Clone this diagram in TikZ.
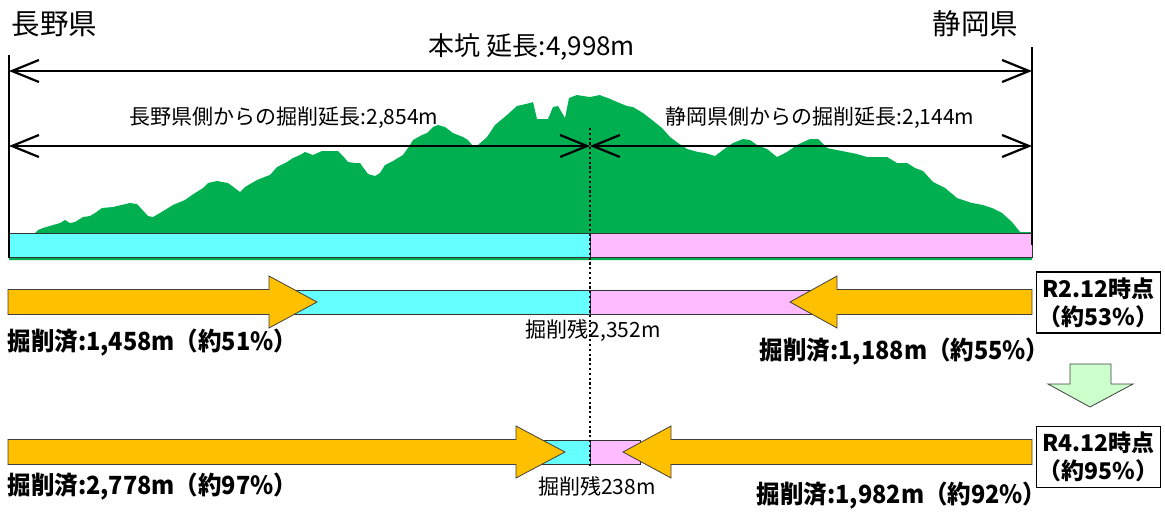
\documentclass[tikz,border=0pt]{standalone}
\usepackage{fontspec}
\usepackage{graphicx}
\setmainfont{Noto Sans CJK JP}
\usetikzlibrary{arrows.meta}

\definecolor{mtgreen}{HTML}{00B050}
\definecolor{tcyan}{HTML}{66FFFF}
\definecolor{tpink}{HTML}{FFBBFF}
\definecolor{dugorange}{HTML}{FFC000}
\definecolor{nextgreen}{HTML}{CCFFCC}

% bold labels are set a little narrow
\newcommand{\condense}[1]{\scalebox{0.94}[1]{#1}}

\begin{document}
\begin{tikzpicture}[x=1pt,y=-1pt,
	>={Straight Barb[length=27pt,width=22pt]},
	dim/.style={line width=2.2pt},
	edge/.style={line width=2.4pt},
	bar/.style={draw=black!80,line width=0.8pt},
	dug/.style={fill=dugorange,draw=black!75,line width=0.8pt},
	cut/.style={line width=2.4pt,dash pattern=on 2.2pt off 2.6pt},
	pref/.style={font=\fontsize{28.5}{30}\selectfont},
	len/.style={font=\fontsize{21}{23}\selectfont},
	done/.style={font=\fontsize{25}{27}\selectfont\bfseries},
	rest/.style={font=\fontsize{21}{23}\selectfont},
	stamp/.style={draw,line width=1.6pt,minimum width=117pt,minimum height=61pt,
		align=center,inner sep=2pt,font=\fontsize{23}{28}\selectfont\bfseries}
]
\useasboundingbox (0,0) rectangle (1165,520);

% mountain section over the tunnel
\fill[mtgreen] (9,260) -- (9,233) -- plot coordinates {
	(35,233) (38,230) (43,228) (53,225) (60,223) (65,220) (70,223) (75,222)
	(83,217) (90,216) (95,213) (102,208) (113,207) (130,203) (137,204) (148,216)
	(153,217) (160,213) (173,205) (185,200) (192,195) (203,188) (208,183) (217,181)
	(228,183) (240,192) (245,187) (257,180) (267,176) (270,175) (277,167) (287,162)
	(293,158) (300,155) (305,152) (313,155) (322,151) (338,151) (343,156) (348,162)
	(355,163) (360,163) (362,166) (368,174) (375,176) (380,173) (385,165) (393,161)
	(403,155) (410,145) (413,140) (422,135) (427,133) (433,127) (438,125) (445,127)
	(453,133) (463,137) (468,140) (472,145) (478,145) (487,137) (495,125) (507,115)
	(517,106) (530,103) (533,102) (537,119) (548,119) (553,107) (558,106) (565,118)
	(569,98) (577,95) (583,96) (590,97) (600,95) (602,96) (608,98) (617,102)
	(627,106) (633,107) (643,113) (652,120) (662,128) (670,137) (678,143) (687,149)
	(698,152) (705,153) (715,156) (723,150) (733,143) (743,139) (750,140) (757,145)
	(767,149) (777,157) (787,152) (797,145) (810,139) (818,139) (827,148) (837,150)
	(847,152) (857,154) (867,157) (887,157) (897,163) (907,163) (915,168) (923,171)
	(933,182) (945,188) (957,198) (972,203) (983,205) (992,208) (1002,213) (1012,222)
	(1020,232) (1032,232)} -- (1032,260) -- cycle;

% tunnel
\draw[bar,fill=tcyan] (9,233) rectangle (590,257);
\draw[bar,fill=tpink] (590,233) rectangle (1032,257);

% portals and lengths
\coordinate (wTop) at (9,55);     \coordinate (wBot) at (9,258);
\coordinate (eTop) at (1032,47);  \coordinate (eBot) at (1032,245);
\coordinate (wAll) at (9,71);     \coordinate (eAll) at (1032,71);
\coordinate (wHalf) at (9,146);   \coordinate (face) at (590,146);
\coordinate (eHalf) at (1032,146);
\coordinate (cutTop) at (590,128); \coordinate (cutBot) at (590,466);

\draw[edge] (wTop) -- (wBot);
\draw[edge] (eTop) -- (eBot);
\draw[dim,<->] (wAll) -- (eAll);
\draw[dim,<->] (wHalf) -- (face);
\draw[dim,<->] (face) -- (eHalf);

\node[pref,anchor=west] (nagano) at (8,24) {長野県};
\node[pref,anchor=east] (shizuoka) at (1022,24) {静岡県};
\node[font=\fontsize{26}{28}\selectfont] (total) at (532,47) {本坑 延長:4,998m};
\node[len] (lenN) at (284,118) {長野県側からの掘削延長:2,854m};
\node[len] (lenS) at (820,118) {静岡県側からの掘削延長:2,144m};

% progress rows
\foreach \y/\a/\c in {302/280/830, 452/540/640} {
	\draw[bar,fill=tcyan] (\a,\y-12) rectangle (590,\y+12);
	\draw[bar,fill=tpink] (590,\y-12) rectangle (\c,\y+12);
}
\foreach \y/\b/\t in {302/269/317, 452/516/565}
	\draw[dug] (8,\y-12.5) -- (\b,\y-12.5) -- (\b,\y-26) -- (\t,\y)
		-- (\b,\y+26) -- (\b,\y+12.5) -- (8,\y+12.5) -- cycle;
\foreach \y/\b/\t in {302/837/790, 452/671/623}
	\draw[dug] (1032,\y-12.5) -- (\b,\y-12.5) -- (\b,\y-26) -- (\t,\y)
		-- (\b,\y+26) -- (\b,\y+12.5) -- (1032,\y+12.5) -- cycle;

\draw[cut] (cutTop) -- (cutBot);

\node[done,anchor=west] (doneN1) at (4,343) {\condense{掘削済:1,458m（約51\%）}};
\node[rest] (rest1) at (593,331) {掘削残2,352m};
\node[done,anchor=east] (doneS1) at (1053,352) {\condense{掘削済:1,188m（約55\%）}};
\node[done,anchor=west] (doneN2) at (4,487) {\condense{掘削済:2,778m（約97\%）}};
\node[rest] (rest2) at (597,486) {掘削残238m};
\node[done,anchor=east] (doneS2) at (1050,496) {\condense{掘削済:1,982m（約92\%）}};

% time stamps
\node[stamp] (r2) at (1098.5,302.5) {R2.12時点\\（約53\%）};
\node[stamp] (r4) at (1098.5,457) {R4.12時点\\（約95\%）};
\draw[fill=nextgreen,draw=black!75,line width=0.8pt] (1070,364) -- (1111,364)
	-- (1111,384) -- (1133,384) -- (1090,407) -- (1048,384) -- (1070,384) -- cycle;
\end{tikzpicture}
\end{document}
